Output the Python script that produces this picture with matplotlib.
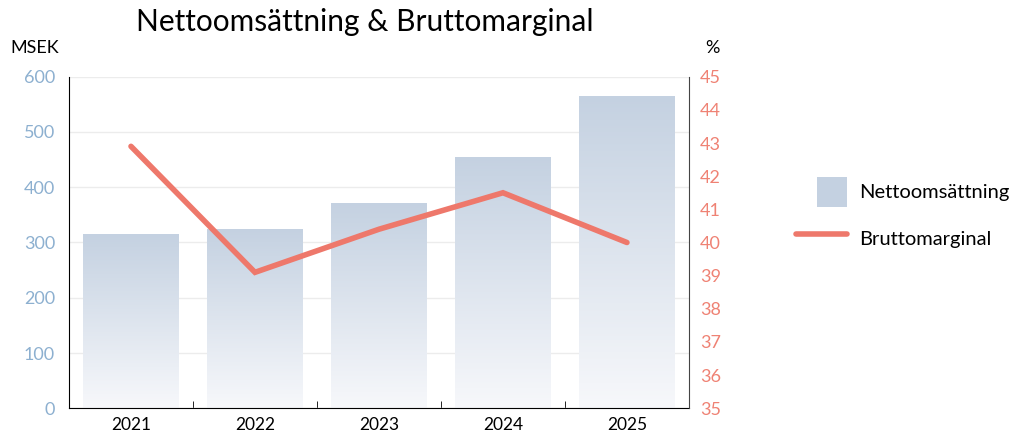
import numpy as np
import matplotlib.pyplot as plt
from matplotlib.patches import Patch, Rectangle
from matplotlib.lines import Line2D
from matplotlib.legend_handler import HandlerPatch
from matplotlib.colors import LinearSegmentedColormap

plt.rcParams['font.family'] = ['Lato', 'DejaVu Sans']

years = ['2021', '2022', '2023', '2024', '2025']
sales = [315, 324, 371, 455, 565]          # MSEK
margin = [42.9, 39.1, 40.4, 41.5, 40.0]    # %

bar_col = '#c4d1e1'
line_col = '#ee786b'
left_tick_col = '#8db0d0'
right_tick_col = '#ef8274'

fig = plt.figure(figsize=(10.13, 4.34), dpi=100)
ax = fig.add_axes([0.0681, 0.0592, 0.612, 0.7641])
x = np.arange(len(years))

bars = ax.bar(x, sales, width=0.77, color=bar_col, zorder=2)

# vertical gradient, solid at the top fading to white at the base
cmap = LinearSegmentedColormap.from_list('fade', ['#f7f8fb', bar_col])
grad = np.linspace(0, 1, 256).reshape(-1, 1)
for b in bars:
    b.set_facecolor('none')
    bx, by = b.get_x(), b.get_y()
    im = ax.imshow(grad, cmap=cmap, origin='lower', aspect='auto',
                   extent=(bx, bx + b.get_width(), by, by + b.get_height()),
                   zorder=2)
    im.set_clip_path(b)

ax.set_xlim(-0.5, len(years) - 0.5)
ax.set_ylim(0, 600)
ax.set_yticks(np.arange(0, 601, 100))
ax.grid(axis='y', color='#ececec', linewidth=1, zorder=0)
ax.set_axisbelow(True)

ax.set_xticks(x)
ax.set_xticklabels(years, fontsize=12.5)
ax.tick_params(axis='x', length=0, pad=6)
ax.set_xticks(x[:-1] + 0.5, minor=True)
ax.tick_params(axis='x', which='minor', direction='in', length=5, color='black')
ax.tick_params(axis='y', length=0, pad=10, labelsize=13, labelcolor=left_tick_col)

ax.spines['top'].set_visible(False)
ax.spines['right'].set_visible(False)
ax.spines['left'].set_color('black')
ax.spines['bottom'].set_color('black')

ax2 = ax.twinx()
ax2.plot(x, margin, color=line_col, linewidth=4, solid_capstyle='round',
         solid_joinstyle='miter', zorder=5)
ax2.set_ylim(35, 45)
ax2.set_yticks(np.arange(35, 46, 1))
ax2.tick_params(axis='y', length=0, pad=8, labelsize=13, labelcolor=right_tick_col)
ax2.spines['top'].set_visible(False)
ax2.spines['left'].set_visible(False)
ax2.spines['bottom'].set_visible(False)
ax2.spines['right'].set_color('#444444')

fig.text(0.36, 0.949, 'Nettoomsättning & Bruttomarginal', fontsize=21.5,
         ha='center', va='center')
fig.text(0.01, 0.89, 'MSEK', fontsize=13, ha='left', va='center')
fig.text(0.703, 0.89, '%', fontsize=13, ha='center', va='center')


def square_patch(legend, orig_handle, xdescent, ydescent, width, height, fontsize):
    s = 1.5 * fontsize
    return Rectangle((width - s - xdescent, (height - s) / 2 - ydescent), s, s)


handles = [Patch(facecolor=bar_col, edgecolor='none'),
           Line2D([0], [0], color=line_col, linewidth=4, solid_capstyle='round')]
fig.legend(handles, ['Nettoomsättning', 'Bruttomarginal'],
           loc='center left', bbox_to_anchor=(0.768, 0.505), frameon=False,
           fontsize=14.5, handlelength=2.55, handleheight=1.7, labelspacing=0.95,
           handletextpad=0.6,
           handler_map={Patch: HandlerPatch(patch_func=square_patch)})

fig.savefig('out.png', dpi=100)
